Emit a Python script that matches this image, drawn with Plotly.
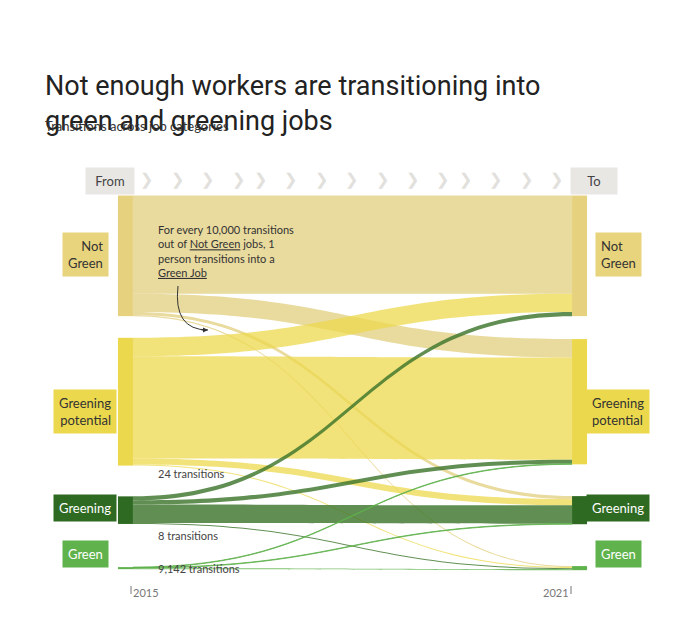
import plotly.graph_objects as go

categories = ["Not Green", "Greening potential", "Greening", "Green"]
box_labels = ["Not<br>Green", "Greening<br>potential", "Greening", "Green"]
years = ["2015", "2021"]

sources = [0, 0, 0, 0, 1, 1, 1, 1, 2, 2, 2, 2, 3, 3, 3]
targets = [4, 5, 6, 7, 4, 5, 6, 7, 4, 5, 6, 7, 5, 6, 7]
values = [96, 18, 3, 1, 18, 100, 6, 1, 4, 4, 18, 1, 0.5, 0.5, 1]

node_colors = ["#e6d27e", "#ecd84c", "#2f6a23", "#5fb24c"]
link_colors = ["rgba(226,206,125,0.75)", "rgba(236,216,76,0.75)",
               "rgba(58,115,40,0.8)", "rgba(95,178,76,0.8)"]
box_colors = ["#e8d47c", "#ecd84c", "#2f6a23", "#5fb24c"]
box_text = ["#333", "#333", "white", "white"]
box_y = [246, 403, 514, 560]

fig = go.Figure(go.Sankey(
    arrangement="fixed",
    domain=dict(x=[117 / 680, 572 / 680], y=[1 - 562 / 628, 1 - 188 / 628]),
    node=dict(
        label=[""] * 8,
        color=node_colors * 2,
        x=[0.001] * 4 + [0.999] * 4,
        y=[0.16, 0.55, 0.84, 0.995, 0.16, 0.55, 0.84, 0.995],
        pad=32,
        thickness=15,
        line=dict(width=0),
        hoverinfo="none",
    ),
    link=dict(
        source=sources,
        target=targets,
        value=values,
        color=[link_colors[s] for s in sources],
    ),
))

ann = []
shapes = []
F = "Lato, Open Sans, sans-serif"


def px(x):
    return x / 680


def py(y):
    return 1 - y / 628


for i, lab in enumerate(box_labels):
    for xc in (77, 610):
        ann.append(dict(x=px(xc), y=py(box_y[i]), xref="paper", yref="paper",
                        text=lab, showarrow=False, align="right" if xc < 300 else "left",
                        font=dict(family=F, size=13, color=box_text[i]),
                        bgcolor=box_colors[i], borderpad=5,
                        xanchor="center"))

for txt, xc in (("From", 77), ("To", 610)):
    ann.append(dict(x=px(xc), y=py(159), xref="paper", yref="paper", text=txt,
                    showarrow=False, font=dict(family=F, size=13, color="#444"),
                    bgcolor="#e9e7e4", borderpad=5, width=36 if txt == "To" else 38))

for k in range(15):
    ann.append(dict(x=px(130 + k * 30.5), y=py(159), xref="paper", yref="paper",
                    text="❯", showarrow=False, font=dict(size=16, color="#e2e0dc")))

for txt, xc in zip(years, (123, 563)):
    ann.append(dict(x=px(xc), y=py(593), xref="paper", yref="paper", text=txt,
                    showarrow=False, font=dict(family=F, size=11, color="#777")))
    shapes.append(dict(type="line", xref="paper", yref="paper", x0=px(xc), x1=px(xc),
                       y0=py(578), y1=py(586), line=dict(color="#777", width=1)))

for txt, y in (("24 transitions", 474), ("8 transitions", 536), ("9,142 transitions", 569)):
    ann.append(dict(x=px(148), y=py(y), xref="paper", yref="paper", text=txt,
                    xanchor="left", showarrow=False,
                    font=dict(family=F, size=11, color="#444")))

ann.append(dict(x=px(148), y=py(243), xref="paper", yref="paper", xanchor="left",
                align="left", showarrow=False,
                text="For every 10,000 transitions<br>out of <u>Not Green</u> jobs, 1<br>"
                     "person transitions into a<br><u>Green Job</u>",
                font=dict(family=F, size=11, color="#333")))
shapes.append(dict(type="path", xref="paper", yref="paper",
                   path=f"M {px(170)},{py(278)} Q {px(165)},{py(322)} {px(200)},{py(322)}",
                   line=dict(color="#333", width=1)))
ann.append(dict(x=px(200), y=py(322), ax=-8, ay=0, xref="paper", yref="paper",
                text="", showarrow=True, arrowhead=2,
                arrowsize=1, arrowwidth=1, arrowcolor="#333"))

ann.append(dict(x=px(35), y=py(60), xref="paper", yref="paper", xanchor="left",
                align="left", showarrow=False,
                text="Not enough workers are transitioning into<br>green and greening jobs",
                font=dict(family="Roboto, sans-serif", size=27, color="#222")))
ann.append(dict(x=px(35), y=py(108), xref="paper", yref="paper", xanchor="left",
                showarrow=False, text="Transitions across job categories",
                font=dict(family=F, size=13, color="#333")))

fig.update_layout(width=680, height=628, margin=dict(l=0, r=0, t=0, b=0),
                  paper_bgcolor="white", annotations=ann, shapes=shapes,
                  font=dict(family=F))
fig.write_html("out.html")
